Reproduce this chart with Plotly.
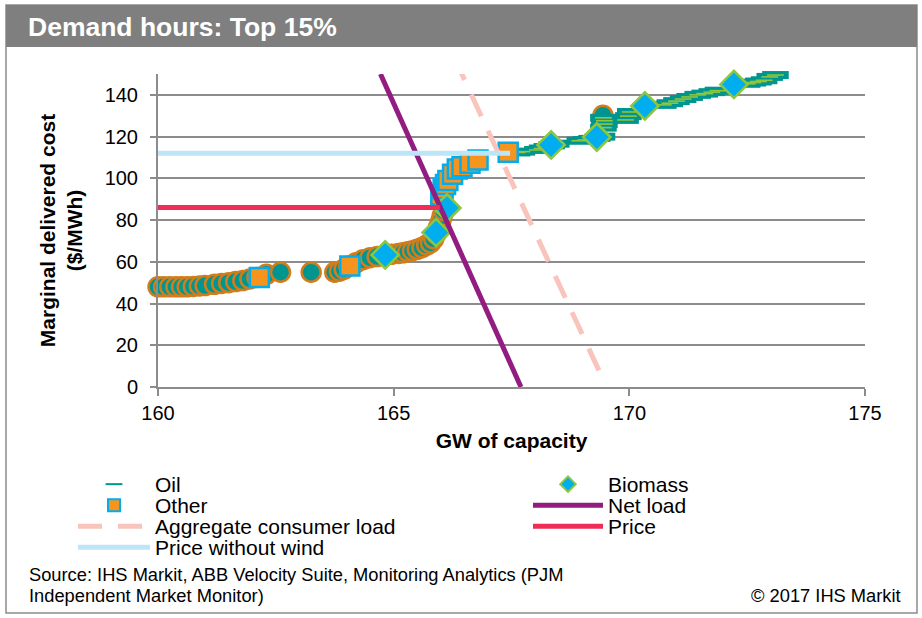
import plotly.graph_objects as go

# ---------------- data ----------------
gas_coal_x = [160.0, 160.12, 160.25, 160.38, 160.5, 160.62, 160.75, 160.88, 161.0, 161.2,
              161.35, 161.5, 161.65, 161.8, 161.95, 162.1, 162.3, 162.6, 163.25, 163.75,
              163.85, 163.95, 164.05, 164.2, 164.35, 164.5, 164.65, 164.95, 165.1, 165.2,
              165.3, 165.4, 165.5, 165.6, 165.7, 165.78, 165.85, 165.9, 165.95, 166.0,
              166.03, 166.06, 169.44]
gas_coal_y = [48, 48, 48, 48, 48, 48, 48.2, 48.4, 48.6, 49.2,
              49.6, 50, 50.5, 51, 51.8, 52.5, 54, 55, 55, 55,
              55.5, 56.5, 58, 59.5, 61, 62, 62.5, 63.6, 64, 64.3,
              64.8, 65.3, 66, 66.8, 68, 69, 71, 73.5, 76.5, 79.5,
              82, 84.5, 130.2]

oil_x = [167.62, 167.72,
         168.05, 168.15, 168.25, 168.35, 168.45,
         168.95, 169.08, 169.2, 169.32, 169.42,
         169.45, 169.47, 169.47, 169.45,
         169.92, 169.98, 170.02,
         170.72, 170.86, 171.0, 171.14, 171.28,
         171.45, 171.6, 171.75, 171.88,
         172.5, 172.62, 172.74, 172.86,
         172.98, 173.1]
oil_y = [112.4, 112.8,
         113.6, 114.3, 115.0, 115.8, 116.6,
         118.0, 118.4, 118.9, 119.4, 120.0,
         124.3, 126.0, 127.6, 129.0,
         128.0, 129.8, 131.8,
         135.2, 136.0, 137.0, 138.0, 139.0,
         140.0, 140.6, 141.3, 142.0,
         145.3, 145.9, 146.4, 147.0,
         148.6, 149.5]

other_x = [162.15, 164.07, 166.0, 166.05, 166.1, 166.15, 166.25, 166.35, 166.45,
           166.62, 166.79, 167.43]
other_y = [52.5, 58, 92, 95, 97, 99, 102, 104.5, 105.5, 107.2, 108.8, 112.5]

biomass_x = [164.82, 165.9, 166.13, 168.34, 169.31, 170.33, 172.22]
biomass_y = [63.3, 74, 85.8, 116, 119.8, 134.7, 145]

netload_x = [164.72, 167.7]
netload_y = [150, 0]

aggregate_x = [166.29, 169.38]
aggregate_y = [157.6, 6.7]

price_x = [160, 165.98]
price_y = [86, 86]

price_nowind_x = [160, 167.47]
price_nowind_y = [112, 112]

x_ticks = [160, 165, 170, 175]
x_ticklabels = ["160", "165", "170", "175"]
y_ticks = [0, 20, 40, 60, 80, 100, 120, 140]
y_ticklabels = ["0", "20", "40", "60", "80", "100", "120", "140"]

# ---------------- layout geometry ----------------
FONT = "Liberation Sans, Arial, sans-serif"
W, H = 922, 618
ML, MR, MT, MB = 158, 57, 74, 231
PW = W - ML - MR
PH = H - MT - MB


def pxx(px):
    return (px - ML) / PW


def pxy(py):
    return (H - MB - py) / PH


TEAL = "#00968F"
ORANGE_EDGE = "#D27D1C"
ORANGE = "#F7941D"
CYAN = "#00AEEF"
LIME = "#8DC63F"
GRID = "#8C8C8C"

fig = go.Figure()

fig.add_trace(go.Scatter(
    x=gas_coal_x, y=gas_coal_y, mode="markers", name="Gas and coal", showlegend=False,
    marker=dict(symbol="circle", size=19, color=TEAL, line=dict(color=ORANGE_EDGE, width=2.5)),
    cliponaxis=False))

fig.add_trace(go.Scatter(
    x=oil_x, y=oil_y, mode="markers", name="Oil", legend="legend", legendgroup="oil",
    marker=dict(symbol="line-ew", size=19, color=TEAL, line=dict(color=TEAL, width=8)),
    cliponaxis=False))
fig.add_trace(go.Scatter(
    x=oil_x, y=oil_y, mode="markers", name="Oil", legend="legend", legendgroup="oil",
    showlegend=False,
    marker=dict(symbol="line-ew", size=12, color=LIME, line=dict(color=LIME, width=1.6)),
    cliponaxis=False))

fig.add_trace(go.Scatter(
    x=other_x, y=other_y, mode="markers", name="Other", legend="legend3",
    marker=dict(symbol="square", size=19, color=ORANGE, line=dict(color=CYAN, width=2.5)),
    cliponaxis=False))

fig.add_trace(go.Scatter(
    x=biomass_x, y=biomass_y, mode="markers", name="Biomass", legend="legend2",
    marker=dict(symbol="diamond", size=21, color=CYAN, line=dict(color=LIME, width=2.5)),
    cliponaxis=False))

fig.add_trace(go.Scatter(
    x=aggregate_x, y=aggregate_y, mode="lines", name="Aggregate consumer load", legend="legend5",
    line=dict(color="#F9C4BC", width=5, dash="24px,16px")))

fig.add_trace(go.Scatter(
    x=netload_x, y=netload_y, mode="lines", name="Net load", legend="legend4",
    line=dict(color="#921C80", width=5)))

fig.add_trace(go.Scatter(
    x=price_x, y=price_y, mode="lines", name="Price", legend="legend6",
    line=dict(color="#EF2D56", width=5)))

fig.add_trace(go.Scatter(
    x=price_nowind_x, y=price_nowind_y, mode="lines", name="Price without wind", legend="legend7",
    line=dict(color="#BDE5F8", width=5)))


def leg(xpx, ycenter, itemwidth):
    return dict(x=pxx(xpx), y=pxy(ycenter - 20), xanchor="left", yanchor="top",
                xref="paper", yref="paper", bgcolor="rgba(0,0,0,0)", borderwidth=0,
                font=dict(size=21, family=FONT, color="#000"), itemwidth=itemwidth,
                itemsizing="constant", orientation="v", tracegroupgap=0)


LX, RX = 73, 528
fig.update_layout(
    width=W, height=H, template="none",
    margin=dict(l=ML, r=MR, t=MT, b=MB, autoexpand=False),
    paper_bgcolor="white", plot_bgcolor="white",
    font=dict(family=FONT, size=20, color="#000"),
    title=dict(text="<b>Demand hours: Top 15%</b>", x=28 / W, xanchor="left",
               y=1 - 27 / H, yanchor="middle", font=dict(size=26.5, color="white", family=FONT)),
    xaxis=dict(range=[160, 175], tickvals=x_ticks, ticktext=x_ticklabels, showgrid=False,
               zeroline=False, showline=True, linecolor=GRID, linewidth=2,
               ticks="outside", ticklen=7, tickwidth=2, tickcolor=GRID,
               tickfont=dict(size=20), fixedrange=True,
               title=dict(text="<b>GW of capacity</b>", standoff=10, font=dict(size=21))),
    yaxis=dict(range=[0, 150], tickvals=y_ticks, ticktext=y_ticklabels, showgrid=True,
               gridcolor=GRID, gridwidth=2, zeroline=False, showline=True, linecolor=GRID,
               linewidth=2, ticks="outside", ticklen=6, tickwidth=2, tickcolor=GRID,
               tickfont=dict(size=20), ticklabelstandoff=8, fixedrange=True,
               title=dict(text="<b>Marginal delivered cost<br>($/MWh)</b>", standoff=16,
                          font=dict(size=21))),
    legend=leg(LX, 484, 72),
    legend2=leg(RX, 484, 70),
    legend3=leg(LX, 505, 72),
    legend4=leg(RX, 505, 70),
    legend5=leg(LX, 526, 72),
    legend6=leg(RX, 526, 70),
    legend7=leg(LX, 547, 72),
    shapes=[
        dict(type="rect", xref="paper", yref="paper", x0=pxx(6), x1=pxx(917), y0=pxy(613), y1=pxy(5),
             line=dict(color="#8C8C8C", width=1.5), fillcolor="rgba(0,0,0,0)", layer="below"),
        dict(type="rect", xref="paper", yref="paper", x0=pxx(6), x1=pxx(917), y0=pxy(47), y1=pxy(5),
             line=dict(width=0), fillcolor="#7F7F7F", layer="below"),
    ],
    annotations=[
        dict(text="Source: IHS Markit, ABB Velocity Suite, Monitoring Analytics (PJM",
             xref="paper", yref="paper", x=pxx(27), y=pxy(574), xanchor="left", yanchor="middle",
             showarrow=False, font=dict(size=18.3, family=FONT, color="#000")),
        dict(text="Independent Market Monitor)",
             xref="paper", yref="paper", x=pxx(27), y=pxy(595), xanchor="left", yanchor="middle",
             showarrow=False, font=dict(size=18.3, family=FONT, color="#000")),
        dict(text="© 2017 IHS Markit",
             xref="paper", yref="paper", x=pxx(903), y=pxy(595), xanchor="right", yanchor="middle",
             showarrow=False, font=dict(size=18.3, family=FONT, color="#000")),
    ],
)

fig.write_html(
    "out.html",
    config={"displayModeBar": False},
    post_script="document.body.style.margin='0';document.body.style.overflow='hidden';",
)
